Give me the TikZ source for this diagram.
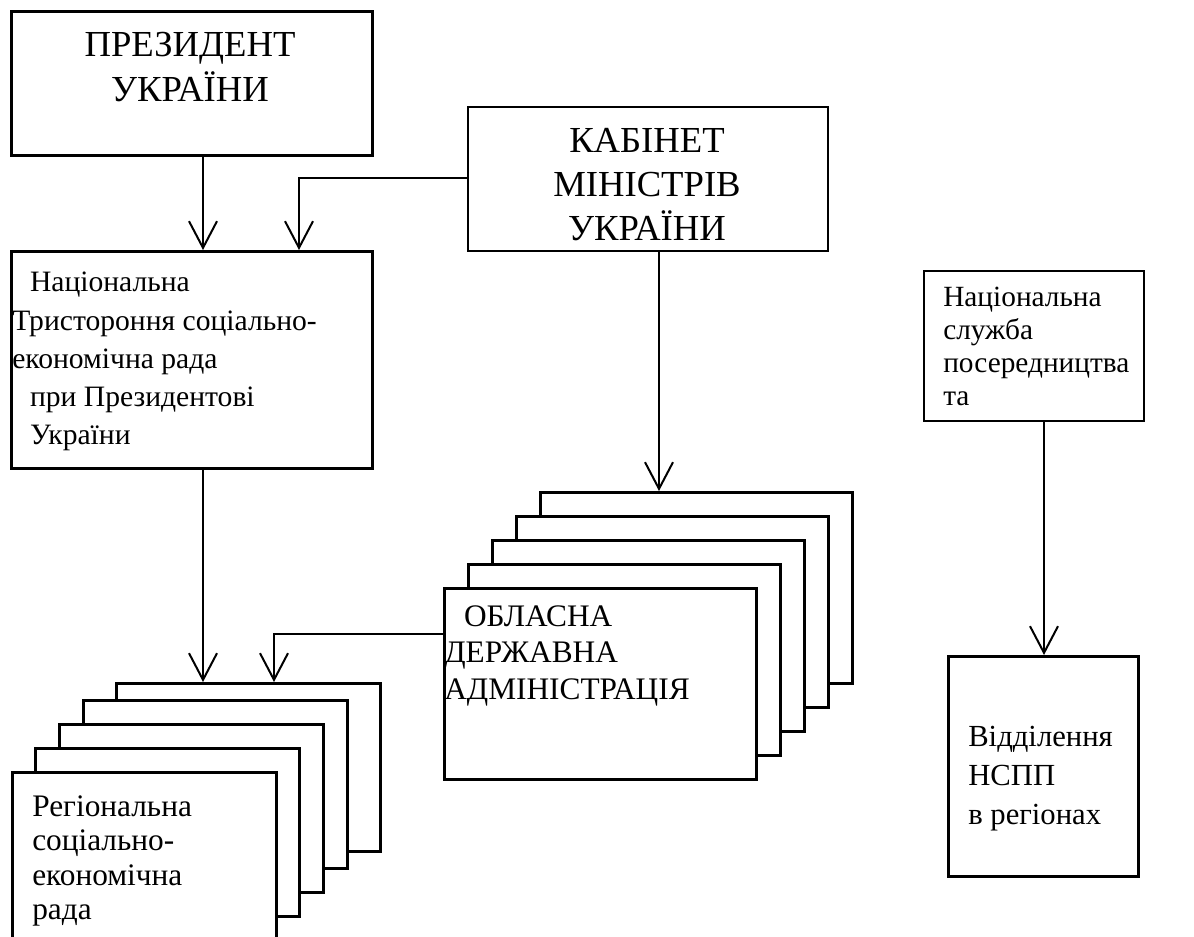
\documentclass[tikz,border=0pt]{standalone}
\usepackage{fontspec}
\setmainfont{Liberation Serif}
\usetikzlibrary{arrows.meta}
\tikzset{
  x = 0.75pt, % one unit = one pixel of the page
  y = -0.75pt, % y runs downwards
  box/.style = { % framed box, placed by its top left corner
    draw,
    line width = #1, % argument = frame thickness
    fill = white, % hides the boxes behind it
    inner sep = 0pt,
    anchor = north west,
  },
  box/.default = 1.9pt,
  boxsize/.style 2 args = { % width and height in pixels
    minimum width = #1*0.75pt,
    minimum height = #2*0.75pt,
  },
  words/.style 2 args = { % text block: #1=font size, #2=line distance
    font = \fontsize{#1}{#2}\selectfont,
    inner sep = 0pt,
    anchor = north west,
    align = left,
  },
  link/.style = { % straight arrow with open head
    line width = 1.5pt,
    -{Straight Barb[length=20pt,width=21pt]},
  },
  elbow/.style = { % thin bent arrow
    line width = 1pt,
    -{Straight Barb[length=20pt,width=21pt,line width=1.5pt]},
  },
}

\begin{document}
\begin{tikzpicture}
    \useasboundingbox (0,0) rectangle (1194,937);
    \clip (0,0) rectangle (1194,937); % front box runs off the page
    % top row
    \node[box, boxsize={361}{144}] (pres) at (10,10) {};
    \node[words={27.5}{33.75}, anchor=north, align=center] (prestxt) at (190,32) {ПРЕЗИДЕНТ\\УКРАЇНИ};
    \node[box=1.2pt, boxsize={360}{144}] (cab) at (467,106) {};
    \node[words={27.5}{33}, anchor=north, align=center] (cabtxt) at (647,128) {КАБІНЕТ\\МІНІСТРІВ\\УКРАЇНИ};
    \node[box, boxsize={361}{217}] (ntser) at (10,250) {};
    \node[words={22.2}{28.7}] (ntsertxt) at (12,272) {\hspace*{0.6em}Національна\\Тристороння соціально-\\економічна рада\\\hspace*{0.6em}при Президентові\\\hspace*{0.6em}України};
    % stack of regional administrations
    \foreach \i in {1,...,5}{ % back to front
      \node[box, boxsize={312}{191}] (oda\i) at ({539-24*(\i-1)},{491+24*(\i-1)}) {};
    } % end loop
    \node[words={23.5}{27.4}] (odatxt) at (444,605) {\hspace*{0.63em}ОБЛАСНА\\ДЕРЖАВНА\\АДМІНІСТРАЦІЯ};
    % stack of regional councils
    \foreach \x/\y [count=\i] in {115/682,82/699,58/723,34/747,11/771}{ % back to front
      \node[box, boxsize={264}{168}] (reg\i) at (\x,\y) {};
    } % end loop
    \node[words={23.5}{25.9}] (regtxt) at (32,795) {Регіональна\\соціально-\\економічна\\рада};
    % right column
    \node[box=1.6pt, boxsize={220}{150}] (nspp) at (923,270) {};
    \node[words={22}{24.75}] (nspptxt) at (943,287) {Національна\\служба\\посередництва\\та};
    \node[box, boxsize={190}{220}] (vidd) at (947,655) {};
    \node[words={23}{29.25}] (viddtxt) at (968,726) {Відділення\\НСПП\\в регіонах};
    % where the connectors run
    \coordinate (xa) at (203,0);
    \coordinate (xb) at (299,0);
    \coordinate (xc) at (659,0);
    \coordinate (xd) at (274,0);
    \coordinate (xe) at (1044,0);
    \coordinate (ya) at (0,178);
    \coordinate (yb) at (0,634);
    % connectors
    \draw[link] (pres.south -| xa) -- (ntser.north -| xa);
    \draw[elbow] (cab.west |- ya) -| (ntser.north -| xb); % bent: -| goes across, then down
    \draw[link] (cab.south -| xc) -- (oda1.north -| xc);
    \draw[link] (ntser.south -| xa) -- (reg1.north -| xa);
    \draw[elbow] (oda5.west |- yb) -| (reg1.north -| xd);
    \draw[link] (nspp.south -| xe) -- (vidd.north -| xe);
  \end{tikzpicture}
\end{document}
